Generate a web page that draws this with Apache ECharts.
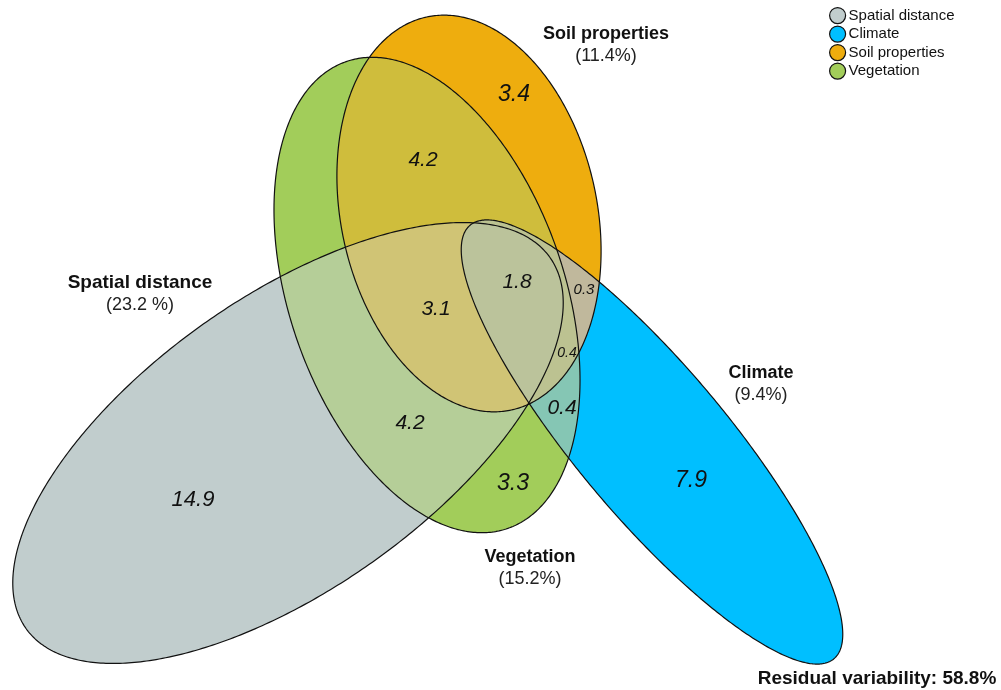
<!DOCTYPE html>
<html>
<head>
<meta charset="utf-8">
<script src="https://cdn.jsdelivr.net/npm/echarts@6/dist/echarts.min.js"></script>
<style>
  html, body { margin: 0; padding: 0; background: #ffffff; }
  #chart { width: 1001px; height: 690px; }
</style>
</head>
<body>
<div id="chart"></div>
<script>
// ---- Explanatory sets -------------------------------------------------
const setNames  = ['Spatial distance', 'Climate', 'Soil properties', 'Vegetation'];
const setKeys   = ['S', 'C', 'P', 'V'];
const setShares = ['23.2 %', '9.4%', '11.4%', '15.2%'];   // variation explained by each set
const residualShare = '58.8%';

// ---- Variation partitioning: value of each region (keyed by member sets) ----
const regionKeys   = ['S', 'P', 'PV', 'SCPV', 'SPV', 'CP', 'CPV', 'CV', 'SV', 'V', 'C'];
const regionValues = [14.9, 3.4, 4.2, 1.8, 3.1, 0.3, 0.4, 0.4, 4.2, 3.3, 7.9];

// ---- Layout (diagram units = 1001 x 690 frame, y downwards) ------------
// ellipse: [centreX, centreY, semiAxisA, semiAxisB, rotationDeg]
const ellipseLayout = [
  [288, 443, 321, 146, -35.3],
  [652, 442, 283, 75, 50.0],
  [469, 213.5, 201, 128, 77.85],
  [427, 295, 247, 137.5, 70.9]
];
const regionLabelLayout = [
  [193, 500, 22], [514, 95, 23], [423, 160, 21], [517, 282, 21], [436, 309, 21],
  [584, 290, 15], [567, 353, 14], [562, 408, 21], [410, 423, 21], [513, 484, 23], [691, 481, 23]
];
const setLabelLayout = [[140, 294, 19], [761, 384, 18], [606, 45, 18], [530, 568, 18]];
const residualLayout = [877, 679, 19];

// ---- Colours ------------------------------------------------------------
const setColors = ['#C1CDCD', '#00BFFF', '#EEAD0E', '#A2CD5A'];
const overlapColors = {
  SC: '#BBC39B', SP: '#D0C475', SV: '#B5CE98', CP: '#C0B89C', CV: '#85C6B4', PV: '#CFBD3C',
  SCP: '#BBC39B', SCV: '#BBC39B', SPV: '#D0C475', CPV: '#BCC291', SCPV: '#BBC39B'
};
const FONT = '"Liberation Sans", Arial, Helvetica, sans-serif';
const INK = '#111111';

// ---- Geometry helpers ----------------------------------------------------
function ellipsePixels(api, e, n) {
  const t = e[4] * Math.PI / 180, ct = Math.cos(t), st = Math.sin(t);
  const pts = [];
  for (let i = 0; i < n; i++) {
    const s = 2 * Math.PI * i / n;
    const x = e[2] * Math.cos(s), y = e[3] * Math.sin(s);
    pts.push(api.coord([e[0] + x * ct - y * st, e[1] + x * st + y * ct]));
  }
  return pts;
}
function signedArea(p) {
  let a = 0;
  for (let i = 0; i < p.length; i++) {
    const q = p[(i + 1) % p.length];
    a += p[i][0] * q[1] - q[0] * p[i][1];
  }
  return a / 2;
}
function lineHit(P, Q, A, B) {
  const d1x = Q[0] - P[0], d1y = Q[1] - P[1], d2x = B[0] - A[0], d2y = B[1] - A[1];
  const den = d1x * d2y - d1y * d2x;
  const t = den === 0 ? 0 : ((A[0] - P[0]) * d2y - (A[1] - P[1]) * d2x) / den;
  return [P[0] + t * d1x, P[1] + t * d1y];
}
// Sutherland–Hodgman: clip a polygon by a convex polygon
function clipConvex(subject, clip) {
  const orient = signedArea(clip) > 0 ? 1 : -1;
  let out = subject;
  for (let i = 0; i < clip.length && out.length; i++) {
    const A = clip[i], B = clip[(i + 1) % clip.length];
    const inside = p => orient * ((B[0] - A[0]) * (p[1] - A[1]) - (B[1] - A[1]) * (p[0] - A[0])) >= 0;
    const inp = out; out = [];
    for (let j = 0; j < inp.length; j++) {
      const P = inp[j], Q = inp[(j + 1) % inp.length];
      const pin = inside(P), qin = inside(Q);
      if (pin) { out.push(P); if (!qin) out.push(lineHit(P, Q, A, B)); }
      else if (qin) out.push(lineHit(P, Q, A, B));
    }
  }
  return out;
}

// every combination of two or more sets, smallest first (painted in that order)
const overlapSets = [];
for (let m = 1; m < 16; m++) {
  const idx = [0, 1, 2, 3].filter(i => m & (1 << i));
  if (idx.length >= 2) overlapSets.push(idx);
}
overlapSets.sort((a, b) => a.length - b.length);

const SAMPLES = 480;

// ---- Series --------------------------------------------------------------
const series = [];

// one filled ellipse per set (also feeds the legend)
setNames.forEach((name, k) => {
  series.push({
    type: 'custom', name: name, coordinateSystem: 'cartesian2d',
    z: 2, silent: true, animation: false,
    itemStyle: { color: setColors[k] },
    data: [[k]],
    renderItem: (params, api) => ({
      type: 'polygon',
      shape: { points: ellipsePixels(api, ellipseLayout[k], SAMPLES) },
      style: { fill: setColors[k], stroke: null }
    })
  });
});

// shared regions, each painted with its own tint
series.push({
  type: 'custom', name: 'overlaps', coordinateSystem: 'cartesian2d',
  z: 3, silent: true, animation: false,
  data: overlapSets.map((s, i) => [i]),
  renderItem: (params, api) => {
    const idx = overlapSets[params.dataIndex];
    let poly = ellipsePixels(api, ellipseLayout[idx[0]], SAMPLES);
    for (let j = 1; j < idx.length && poly.length; j++) {
      poly = clipConvex(poly, ellipsePixels(api, ellipseLayout[idx[j]], SAMPLES));
    }
    if (poly.length < 3) return { type: 'group', children: [] };
    const key = idx.map(i => setKeys[i]).join('');
    return {
      type: 'polygon', z2: idx.length,
      shape: { points: poly },
      style: { fill: overlapColors[key], stroke: null }
    };
  }
});

// ellipse outlines
series.push({
  type: 'custom', name: 'outlines', coordinateSystem: 'cartesian2d',
  z: 4, silent: true, animation: false,
  data: ellipseLayout.map((e, i) => [i]),
  renderItem: (params, api) => ({
    type: 'polygon',
    shape: { points: ellipsePixels(api, ellipseLayout[params.dataIndex], SAMPLES) },
    style: { fill: null, stroke: INK, lineWidth: 1.2 }
  })
});

// region values
series.push({
  type: 'custom', name: 'values', coordinateSystem: 'cartesian2d',
  z: 5, silent: true, animation: false,
  data: regionValues.map((v, i) => [i, v]),
  renderItem: (params, api) => {
    const L = regionLabelLayout[params.dataIndex];
    const p = api.coord([L[0], L[1]]);
    return {
      type: 'text', x: p[0], y: p[1],
      style: {
        text: api.value(1).toFixed(1), fontSize: L[2], fontStyle: 'italic',
        fontFamily: FONT, fill: INK, align: 'center', verticalAlign: 'middle'
      }
    };
  }
});

// set names with their share, and the residual
series.push({
  type: 'custom', name: 'setLabels', coordinateSystem: 'cartesian2d',
  z: 5, silent: true, animation: false,
  data: setNames.map((n, i) => [i]).concat([[4]]),
  renderItem: (params, api) => {
    const i = params.dataIndex;
    if (i === 4) {
      const p = api.coord([residualLayout[0], residualLayout[1]]);
      return {
        type: 'text', x: p[0], y: p[1],
        style: {
          text: 'Residual variability: ' + residualShare, fontSize: residualLayout[2],
          fontWeight: 'bold', fontFamily: FONT, fill: INK, align: 'center', verticalAlign: 'middle'
        }
      };
    }
    const L = setLabelLayout[i];
    const top = api.coord([L[0], L[1] - 11]);
    const bot = api.coord([L[0], L[1] + 11]);
    return {
      type: 'group',
      children: [
        { type: 'text', x: top[0], y: top[1],
          style: { text: setNames[i], fontSize: L[2], fontWeight: 'bold', fontFamily: FONT,
                   fill: INK, align: 'center', verticalAlign: 'middle' } },
        { type: 'text', x: bot[0], y: bot[1],
          style: { text: '(' + setShares[i] + ')', fontSize: 18, fontFamily: FONT,
                   fill: '#222222', align: 'center', verticalAlign: 'middle' } }
      ]
    };
  }
});

const chart = echarts.init(document.getElementById('chart'), null, { renderer: 'canvas' });
chart.setOption({
  backgroundColor: '#ffffff',
  animation: false,
  grid: { left: 0, right: 0, top: 0, bottom: 0 },
  xAxis: { type: 'value', min: 0, max: 1001, show: false },
  yAxis: { type: 'value', min: 0, max: 690, inverse: true, show: false },
  legend: {
    data: setNames.map((n, i) => ({
      name: n, icon: 'circle',
      itemStyle: { color: setColors[i], borderColor: '#111111', borderWidth: 1.2 }
    })),
    orient: 'vertical', left: 829, top: 7, padding: 0,
    itemWidth: 16, itemHeight: 16, itemGap: 1.3,
    selectedMode: false,
    textStyle: { fontSize: 15, lineHeight: 16, fontFamily: FONT, color: '#111111', padding: [0, 0, 0, -2] }
  },
  series: series
});
</script>
</body>
</html>
